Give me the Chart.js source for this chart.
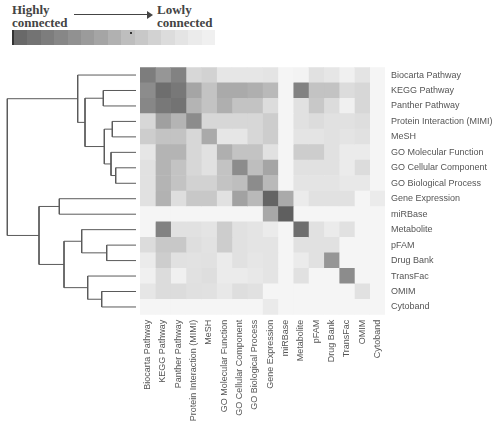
<!DOCTYPE html>
<html>
<head>
<meta charset="utf-8">
<script src="https://cdn.jsdelivr.net/npm/chart.js@4"></script>
<style>
  html, body { margin: 0; padding: 0; background: #fff; }
  #wrap { position: relative; width: 496px; height: 424px; overflow: hidden; }
  canvas { position: absolute; left: 0; top: 0; }
  .lbl { position: absolute; font: bold 13px "Liberation Serif", serif; color: #444; line-height: 13px; }
  #arrow { position: absolute; left: 74px; top: 14px; width: 74px; height: 1px; background: #444; }
  #arrowHead { position: absolute; left: 147px; top: 11px; width: 0; height: 0;
    border-top: 4px solid transparent; border-bottom: 4px solid transparent; border-left: 6px solid #444; }
  #bar { position: absolute; left: 12px; top: 30px; width: 201px; height: 15px; display: flex; border-left: 2px solid #333; }
  #bar div { flex: 1; }
  #dot { position: absolute; left: 130px; top: 32px; width: 2px; height: 2px; background: #333; }
</style>
</head>
<body>
<div id="wrap">
  <div class="lbl" style="left:12px;top:3px;">Highly<br>connected</div>
  <div id="arrow"></div><div id="arrowHead"></div>
  <div class="lbl" style="left:157px;top:3px;">Lowly<br>connected</div>
  <div id="bar"></div>
  <div id="dot"></div>
  <canvas id="dendro" width="140" height="424"></canvas>
  <canvas id="heat" width="496" height="424"></canvas>
</div>
<script>
  const sources = ["Biocarta Pathway", "KEGG Pathway", "Panther Pathway", "Protein Interaction (MIMI)",
    "MeSH", "GO Molecular Function", "GO Cellular Component", "GO Biological Process",
    "Gene Expression", "miRBase", "Metabolite", "pFAM", "Drug Bank", "TransFac", "OMIM", "Cytoband"];

  // connectivity score per pair (row = source, column = source), higher = darker
  const scores = [
    [120, 95,115, 30, 35, 15, 15, 15,  17,  0,  2, 20, 15,  5, 17,  0],
    [105,135,125, 80, 50, 75, 75, 70,  60,  0,115, 50, 50, 25, 30,  0],
    [110,125,130, 65, 50, 70, 50, 50,  25,  0, 20, 45, 25,  5, 30,  0],
    [ 30, 85, 65,105, 30, 30, 30, 30,  40,  0, 20, 25, 20, 20, 23,  0],
    [ 40, 50, 50, 30, 75, 15, 15, 30,  40,  0, 17, 17, 20, 17, 20,  0],
    [ 15, 65, 65, 30, 20, 70, 50, 50,  20,  0, 40, 40, 20, 10, 10,  0],
    [ 20, 65, 50, 30, 20, 50,105, 55,  80,  0, 20, 20, 20, 10, 25,  0],
    [ 20, 65, 50, 35, 35, 50, 55,105,  60,  0, 17, 17, 17, 13, 13,  0],
    [ 20, 67, 23, 45, 45, 20, 83, 60, 145, 75, 10, 20, 20, 20,  0, 10],
    [  0,  0,  0,  0,  0,  0,  0,  0,  77,150,  0,  0,  0,  0,  0,  0],
    [  0,115, 20, 20, 17, 40, 20, 17,  10,  0,135, 20, 10, 20,  0,  0],
    [ 25, 45, 45, 23, 19, 40, 20, 17,  17,  0, 20, 20, 20,  0,  0,  0],
    [ 10, 40, 20, 19, 20, 10, 20, 15,  17,  0, 10, 20, 95,  0,  0,  0],
    [  5, 25,  5, 20, 23, 10, 10, 13,  17,  0, 20,  0,  0,105,  0,  0],
    [ 15, 25, 25, 21, 20, 13, 23, 20,   0,  0,  0,  0,  0,  0, 20,  0],
    [  0,  0,  0,  0,  0,  0,  0,  0,  11,  0,  0,  0,  0,  0,  0,  0]
  ];

  // clustering: pairs joined (leaf index < 16, merged node = 16 + merge index) and linkage distances
  const mergePairs = [[1,2],[3,4],[6,7],[5,18],[17,19],[16,20],[0,21],[8,9],[11,12],[10,24],[14,15],[13,26],[25,27],[23,28],[22,29]];
  const mergeHeights = [32.7, 23.7, 20.3, 25, 31.7, 51, 58.3, 76.7, 29.3, 54.3, 34.3, 48.3, 72, 97, 128.7];

  // colour scale legend, dark to light
  const legendSteps = [140, 130, 120, 110, 100, 90, 80, 68, 55, 45, 35, 25, 17, 10, 5];

  const gray = s => { const g = Math.round(245 - s); return `rgb(${g},${g},${g})`; };

  const bar = document.getElementById('bar');
  legendSteps.forEach(s => {
    const d = document.createElement('div');
    d.style.background = gray(s);
    bar.appendChild(d);
  });

  const plotTop = 67.3, plotBottom = 424 - 314.7;
  const tickFont = { family: 'Liberation Sans', size: 9 };

  // heatmap
  new Chart(document.getElementById('heat'), {
    type: 'bar',
    data: {
      labels: sources,
      datasets: sources.map((col, j) => ({
        label: col,
        data: sources.map(() => 1),
        backgroundColor: sources.map((row, i) => gray(scores[i][j])),
        borderWidth: 0,
        barPercentage: 1,
        categoryPercentage: 1
      }))
    },
    options: {
      responsive: false,
      animation: false,
      indexAxis: 'y',
      layout: { padding: { left: 140, top: plotTop, right: 0, bottom: 0 } },
      plugins: { legend: { display: false }, tooltip: { enabled: false } },
      scales: {
        x: { type: 'linear', stacked: true, min: 0, max: sources.length, display: false },
        y: {
          stacked: true, position: 'right',
          grid: { display: false, drawTicks: false, tickLength: 0 }, border: { display: false },
          ticks: { padding: 6, color: '#555', font: tickFont },
          afterFit: s => { s.width = 111; }
        },
        xl: {
          axis: 'x', type: 'category', labels: sources, position: 'bottom', offset: true,
          grid: { display: false, drawTicks: false, tickLength: 0 }, border: { display: false },
          ticks: { autoSkip: false, minRotation: 90, maxRotation: 90, padding: 5, color: '#555', font: tickFont },
          afterFit: s => { s.height = plotBottom; }
        }
      }
    }
  });

  // dendrogram
  const nodeY = sources.map((_, i) => i);
  const nodeH = sources.map(() => 0);
  const links = mergePairs.map(([a, b], k) => {
    const h = mergeHeights[k];
    nodeY.push((nodeY[a] + nodeY[b]) / 2);
    nodeH.push(h);
    return {
      data: [{ x: nodeH[a], y: nodeY[a] }, { x: h, y: nodeY[a] }, { x: h, y: nodeY[b] }, { x: nodeH[b], y: nodeY[b] }],
      showLine: true, borderColor: '#5a5a5a', borderWidth: 1, pointRadius: 0, tension: 0, clip: false
    };
  });

  new Chart(document.getElementById('dendro'), {
    type: 'scatter',
    data: { datasets: links },
    options: {
      responsive: false,
      animation: false,
      layout: { padding: { left: 7.3, right: 4, top: plotTop, bottom: plotBottom } },
      plugins: { legend: { display: false }, tooltip: { enabled: false } },
      scales: {
        x: { type: 'linear', min: 0, max: Math.max(...mergeHeights), reverse: true, display: false },
        y: { type: 'linear', min: -0.5, max: sources.length - 0.5, reverse: true, display: false }
      }
    }
  });
</script>
</body>
</html>
